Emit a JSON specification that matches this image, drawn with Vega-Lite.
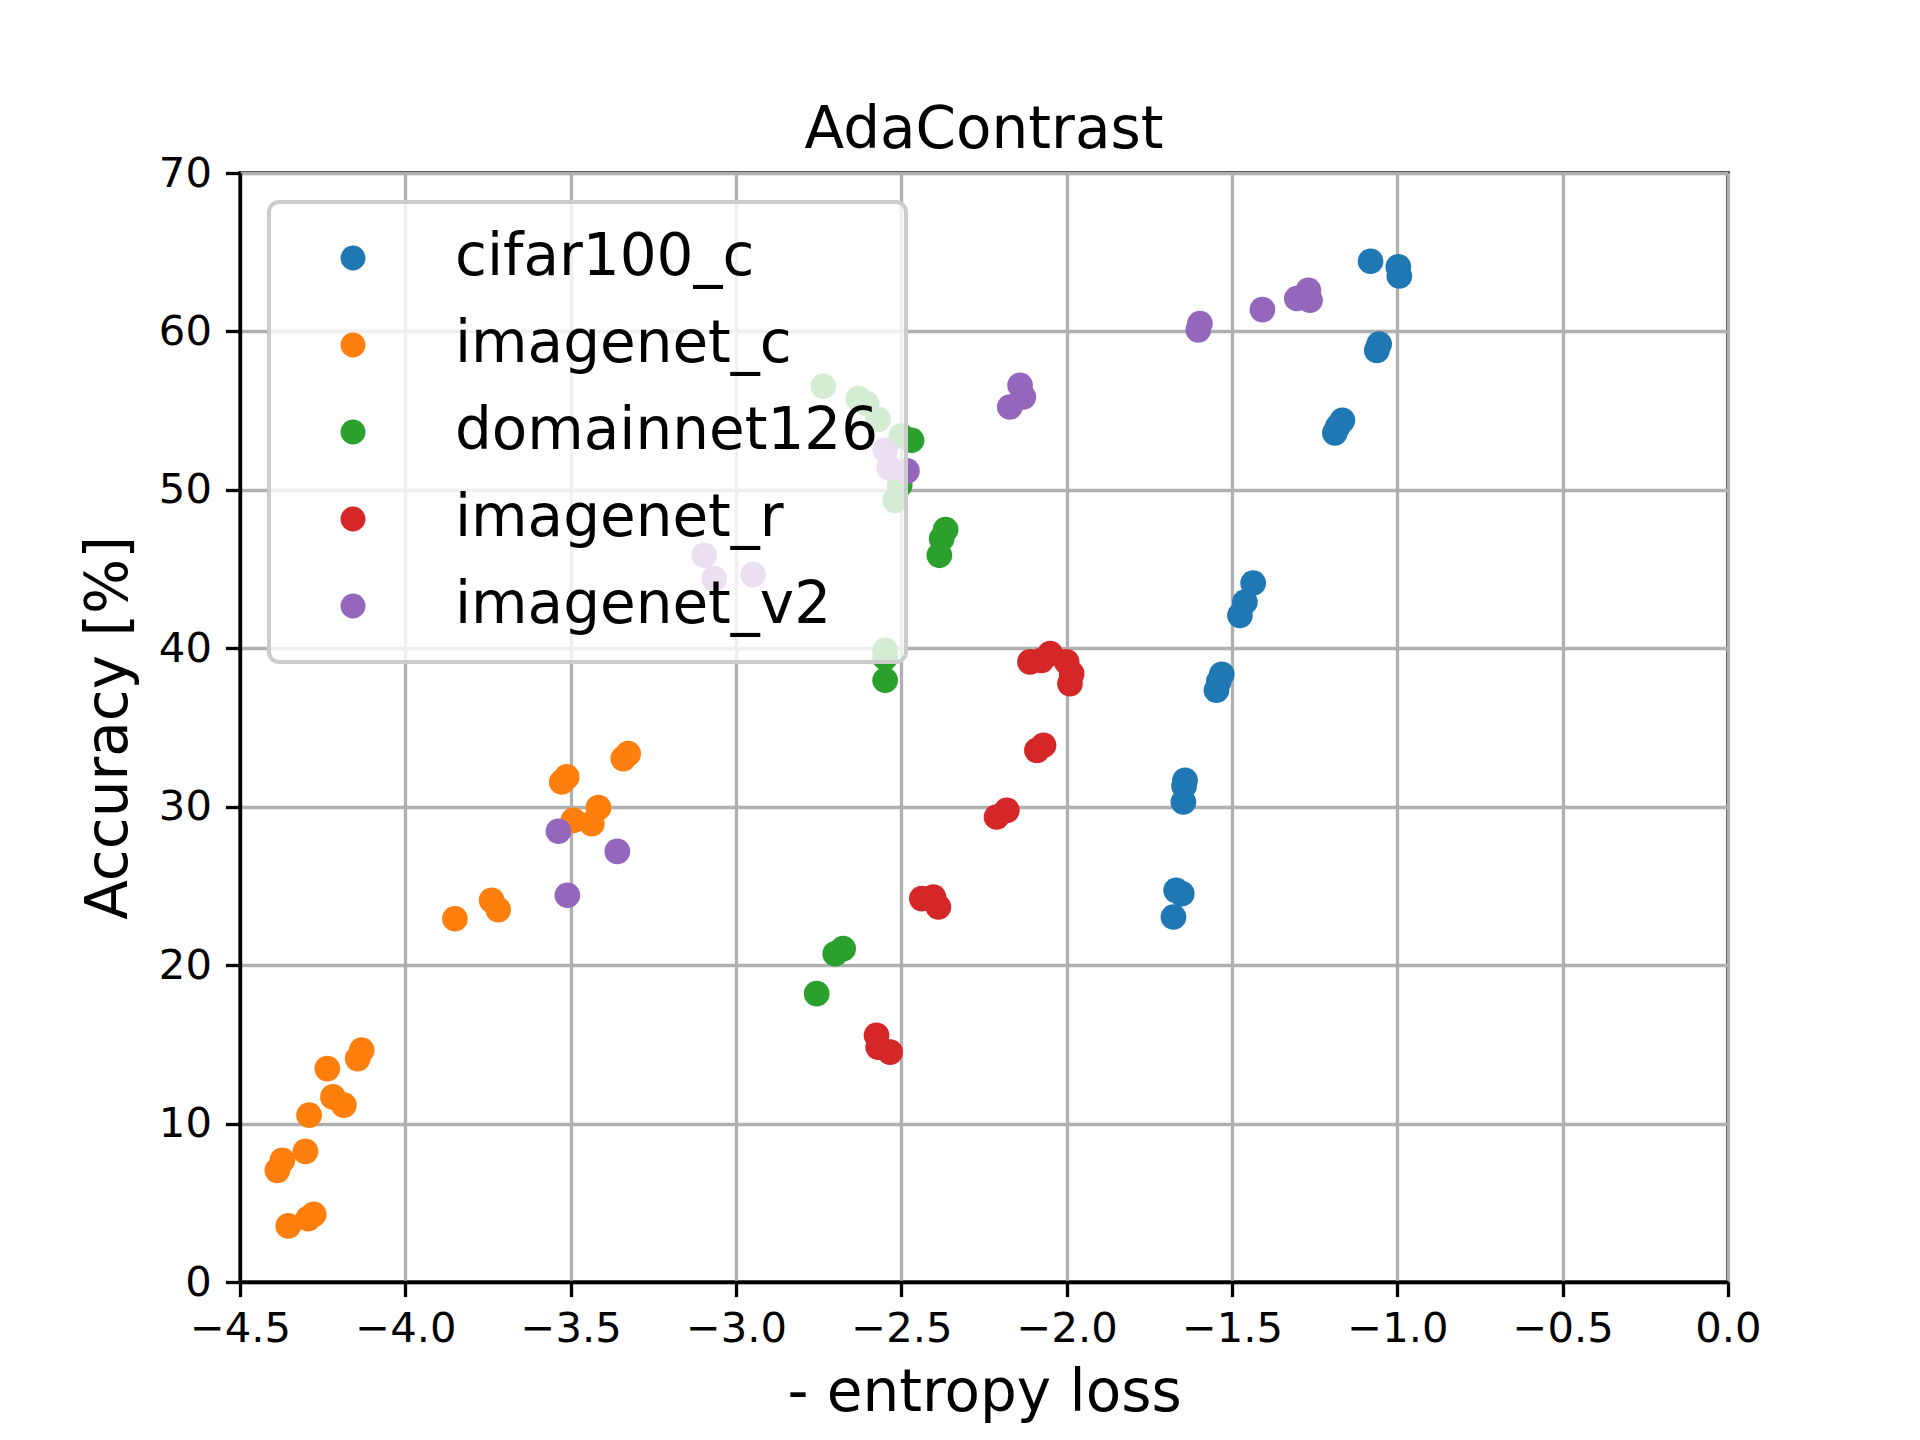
{
  "$schema": "https://vega.github.io/schema/vega-lite/v6.json",
  "width": 1488,
  "height": 1109,
  "autosize": {"type": "none"},
  "padding": {"left": 240, "top": 173, "right": 192, "bottom": 158},
  "background": "white",
  "title": {"text": "AdaContrast", "fontSize": 58, "font": "DejaVu Sans", "fontWeight": "normal", "color": "black", "baseline": "alphabetic", "offset": -53, "anchor": "middle"},
  "data": {"values": [
    {"dataset": "cifar100_c", "x": -1.436, "y": 44.12},
    {"dataset": "cifar100_c", "x": -1.461, "y": 42.92},
    {"dataset": "cifar100_c", "x": -1.476, "y": 42.08},
    {"dataset": "cifar100_c", "x": -1.531, "y": 38.36},
    {"dataset": "cifar100_c", "x": -1.540, "y": 37.9},
    {"dataset": "cifar100_c", "x": -1.547, "y": 37.35},
    {"dataset": "cifar100_c", "x": -1.642, "y": 31.67},
    {"dataset": "cifar100_c", "x": -1.645, "y": 31.3},
    {"dataset": "cifar100_c", "x": -1.647, "y": 30.30},
    {"dataset": "cifar100_c", "x": -1.669, "y": 24.72},
    {"dataset": "cifar100_c", "x": -1.652, "y": 24.51},
    {"dataset": "cifar100_c", "x": -1.677, "y": 23.04},
    {"dataset": "cifar100_c", "x": -1.081, "y": 64.43},
    {"dataset": "cifar100_c", "x": -0.997, "y": 64.07},
    {"dataset": "cifar100_c", "x": -0.994, "y": 63.5},
    {"dataset": "cifar100_c", "x": -1.055, "y": 59.2},
    {"dataset": "cifar100_c", "x": -1.062, "y": 58.8},
    {"dataset": "cifar100_c", "x": -1.166, "y": 54.39},
    {"dataset": "cifar100_c", "x": -1.180, "y": 54.0},
    {"dataset": "cifar100_c", "x": -1.189, "y": 53.6},
    {"dataset": "imagenet_c", "x": -4.132, "y": 14.63},
    {"dataset": "imagenet_c", "x": -4.144, "y": 14.1},
    {"dataset": "imagenet_c", "x": -4.236, "y": 13.47},
    {"dataset": "imagenet_c", "x": -4.219, "y": 11.68},
    {"dataset": "imagenet_c", "x": -4.186, "y": 11.16},
    {"dataset": "imagenet_c", "x": -4.291, "y": 10.53},
    {"dataset": "imagenet_c", "x": -4.302, "y": 8.25},
    {"dataset": "imagenet_c", "x": -4.372, "y": 7.68},
    {"dataset": "imagenet_c", "x": -4.387, "y": 7.05},
    {"dataset": "imagenet_c", "x": -4.277, "y": 4.27},
    {"dataset": "imagenet_c", "x": -4.294, "y": 4.0},
    {"dataset": "imagenet_c", "x": -4.354, "y": 3.54},
    {"dataset": "imagenet_c", "x": -3.326, "y": 33.35},
    {"dataset": "imagenet_c", "x": -3.341, "y": 33.04},
    {"dataset": "imagenet_c", "x": -3.512, "y": 31.88},
    {"dataset": "imagenet_c", "x": -3.527, "y": 31.56},
    {"dataset": "imagenet_c", "x": -3.416, "y": 29.94},
    {"dataset": "imagenet_c", "x": -3.492, "y": 29.14},
    {"dataset": "imagenet_c", "x": -3.436, "y": 28.93},
    {"dataset": "imagenet_c", "x": -3.739, "y": 24.09},
    {"dataset": "imagenet_c", "x": -3.719, "y": 23.50},
    {"dataset": "imagenet_c", "x": -3.850, "y": 22.93},
    {"dataset": "domainnet126", "x": -2.736, "y": 56.54},
    {"dataset": "domainnet126", "x": -2.630, "y": 55.76},
    {"dataset": "domainnet126", "x": -2.605, "y": 55.45},
    {"dataset": "domainnet126", "x": -2.570, "y": 54.44},
    {"dataset": "domainnet126", "x": -2.500, "y": 53.4},
    {"dataset": "domainnet126", "x": -2.469, "y": 53.13},
    {"dataset": "domainnet126", "x": -2.505, "y": 50.29},
    {"dataset": "domainnet126", "x": -2.519, "y": 49.34},
    {"dataset": "domainnet126", "x": -2.366, "y": 47.49},
    {"dataset": "domainnet126", "x": -2.378, "y": 46.92},
    {"dataset": "domainnet126", "x": -2.385, "y": 45.87},
    {"dataset": "domainnet126", "x": -2.549, "y": 39.87},
    {"dataset": "domainnet126", "x": -2.549, "y": 39.4},
    {"dataset": "domainnet126", "x": -2.549, "y": 37.98},
    {"dataset": "domainnet126", "x": -2.676, "y": 21.04},
    {"dataset": "domainnet126", "x": -2.700, "y": 20.72},
    {"dataset": "domainnet126", "x": -2.756, "y": 18.20},
    {"dataset": "imagenet_r", "x": -2.111, "y": 39.14},
    {"dataset": "imagenet_r", "x": -2.076, "y": 39.24},
    {"dataset": "imagenet_r", "x": -2.050, "y": 39.66},
    {"dataset": "imagenet_r", "x": -2.000, "y": 39.14},
    {"dataset": "imagenet_r", "x": -1.985, "y": 38.40},
    {"dataset": "imagenet_r", "x": -1.990, "y": 37.77},
    {"dataset": "imagenet_r", "x": -2.070, "y": 33.88},
    {"dataset": "imagenet_r", "x": -2.090, "y": 33.56},
    {"dataset": "imagenet_r", "x": -2.181, "y": 29.77},
    {"dataset": "imagenet_r", "x": -2.212, "y": 29.35},
    {"dataset": "imagenet_r", "x": -2.403, "y": 24.30},
    {"dataset": "imagenet_r", "x": -2.438, "y": 24.20},
    {"dataset": "imagenet_r", "x": -2.388, "y": 23.67},
    {"dataset": "imagenet_r", "x": -2.575, "y": 15.57},
    {"dataset": "imagenet_r", "x": -2.570, "y": 14.83},
    {"dataset": "imagenet_r", "x": -2.534, "y": 14.51},
    {"dataset": "imagenet_v2", "x": -1.597, "y": 60.5},
    {"dataset": "imagenet_v2", "x": -1.602, "y": 60.1},
    {"dataset": "imagenet_v2", "x": -1.408, "y": 61.38},
    {"dataset": "imagenet_v2", "x": -1.304, "y": 62.08},
    {"dataset": "imagenet_v2", "x": -1.269, "y": 62.6},
    {"dataset": "imagenet_v2", "x": -1.264, "y": 61.97},
    {"dataset": "imagenet_v2", "x": -2.141, "y": 56.6},
    {"dataset": "imagenet_v2", "x": -2.172, "y": 55.23},
    {"dataset": "imagenet_v2", "x": -2.131, "y": 55.87},
    {"dataset": "imagenet_v2", "x": -2.549, "y": 52.5},
    {"dataset": "imagenet_v2", "x": -2.537, "y": 51.4},
    {"dataset": "imagenet_v2", "x": -2.483, "y": 51.2},
    {"dataset": "imagenet_v2", "x": -3.096, "y": 45.87},
    {"dataset": "imagenet_v2", "x": -3.066, "y": 44.40},
    {"dataset": "imagenet_v2", "x": -2.948, "y": 44.65},
    {"dataset": "imagenet_v2", "x": -3.537, "y": 28.45},
    {"dataset": "imagenet_v2", "x": -3.359, "y": 27.18},
    {"dataset": "imagenet_v2", "x": -3.510, "y": 24.41}
  ]},
  "mark": {"type": "point", "filled": true, "shape": "circle", "size": 660, "opacity": 1},
  "encoding": {
    "x": {
      "field": "x", "type": "quantitative",
      "scale": {"domain": [-4.5, 0], "nice": false, "zero": false},
      "axis": {"title": "- entropy loss", "values": [-4.5, -4.0, -3.5, -3.0, -2.5, -2.0, -1.5, -1.0, -0.5, 0.0], "format": ".1f", "labelPadding": 12, "titlePadding": 14}
    },
    "y": {
      "field": "y", "type": "quantitative",
      "scale": {"domain": [0, 70], "nice": false},
      "axis": {"title": "Accuracy [%]", "values": [0, 10, 20, 30, 40, 50, 60, 70], "labelPadding": 14, "titlePadding": 20}
    },
    "color": {
      "field": "dataset", "type": "nominal",
      "scale": {"domain": ["cifar100_c", "imagenet_c", "domainnet126", "imagenet_r", "imagenet_v2"], "range": ["#1f77b4", "#ff7f0e", "#2ca02c", "#d62728", "#9467bd"]},
      "legend": {
        "title": null, "orient": "none", "legendX": 29, "legendY": 29,
        "fillColor": "rgba(255,255,255,0.8)", "strokeColor": "#cccccc", "cornerRadius": 10,
        "padding": 27, "symbolType": "circle", "symbolSize": 620, "symbolStrokeWidth": 0, "symbolOpacity": 1,
        "symbolOffset": 28, "labelOffset": 73, "labelFontSize": 58, "labelFont": "DejaVu Sans", "labelColor": "black",
        "labelLimit": 1000, "rowPadding": 29, "zindex": 2,
        "encode": {"legend": {"update": {"strokeWidth": {"value": 4}}}}
      }
    }
  },
  "config": {
    "view": {"stroke": "black", "strokeWidth": 3.3},
    "axis": {
      "domainColor": "black", "domainWidth": 3.3, "tickColor": "black", "tickWidth": 3.3, "tickSize": 14.6,
      "labelFontSize": 41.7, "labelFont": "DejaVu Sans", "labelColor": "black", "labelFlush": false,
      "titleFontSize": 58, "titleFont": "DejaVu Sans", "titleFontWeight": "normal", "titleColor": "black",
      "gridColor": "#b0b0b0", "gridWidth": 3.3, "gridOpacity": 1, "zindex": 1, "labelOverlap": false
    }
  }
}
